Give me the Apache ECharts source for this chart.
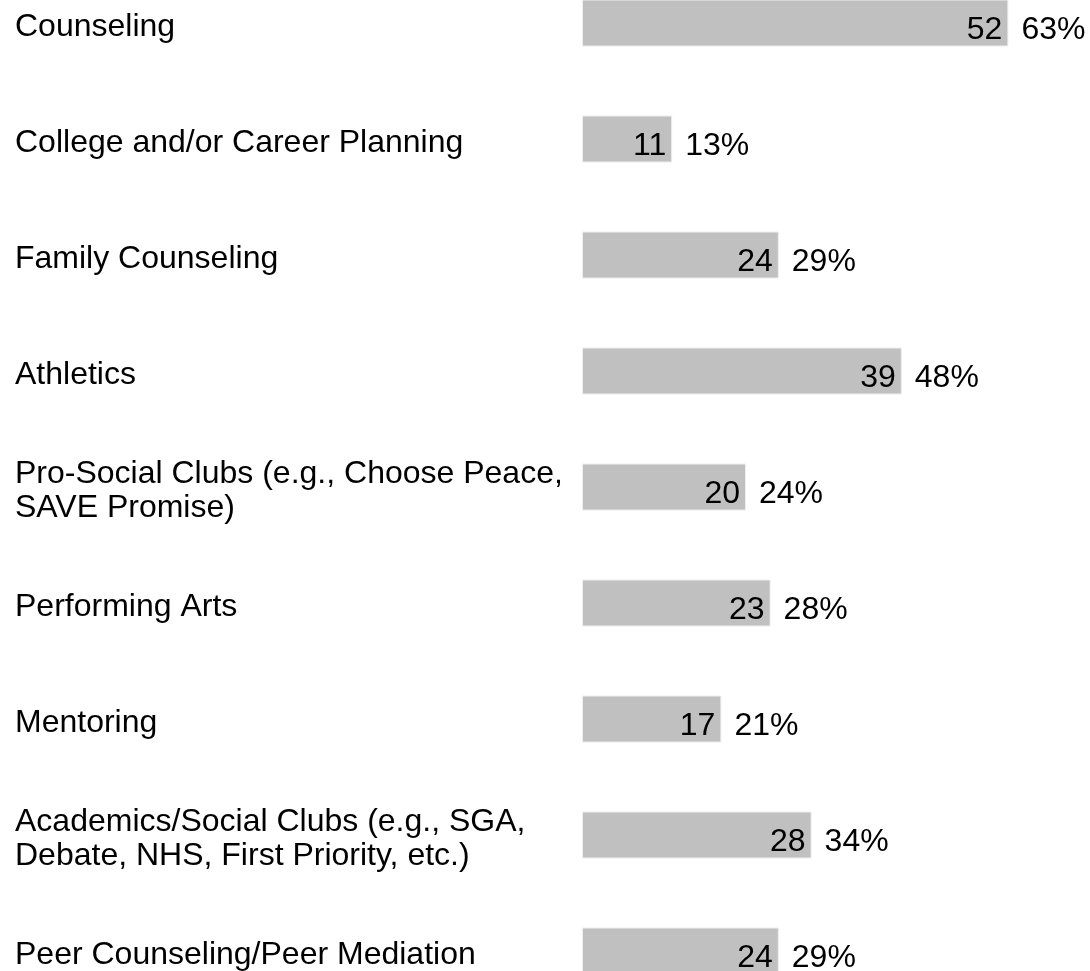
<!DOCTYPE html>
<html>
<head>
<meta charset="utf-8">
<script src="https://cdn.jsdelivr.net/npm/echarts@6/dist/echarts.min.js"></script>
<style>
html,body{margin:0;padding:0;background:#fff;}
#chart{width:1090px;height:971px;}
</style>
</head>
<body>
<div id="chart"></div>
<script>
var categories = [
  "Counseling",
  "College and/or Career Planning",
  "Family Counseling",
  "Athletics",
  "Pro-Social Clubs (e.g., Choose Peace,\nSAVE Promise)",
  "Performing Arts",
  "Mentoring",
  "Academics/Social Clubs (e.g., SGA,\nDebate, NHS, First Priority, etc.)",
  "Peer Counseling/Peer Mediation"
];
var counts = [52, 11, 24, 39, 20, 23, 17, 28, 24];
var percents = ["63%", "13%", "29%", "48%", "24%", "28%", "21%", "34%", "29%"];

var FONT = "'Liberation Sans', Arial, sans-serif";
var chart = echarts.init(document.getElementById('chart'), null, {renderer: 'canvas'});
chart.setOption({
  animation: false,
  backgroundColor: '#ffffff',
  grid: {left: 582, right: 16, top: -35, bottom: -38, containLabel: false, outerBoundsMode: 'none'},
  xAxis: {
    type: 'value', min: 0, max: 60,
    show: false
  },
  yAxis: {
    type: 'category',
    data: categories,
    inverse: true,
    axisLine: {show: false},
    axisTick: {show: false},
    splitLine: {show: false},
    axisLabel: {show: false}
  },
  series: [
    {
      type: 'bar',
      data: counts,
      barWidth: 47,
      itemStyle: {color: '#c0c0c0', borderColor: '#eeeeee', borderWidth: 1},
      label: {
        show: true,
        position: 'insideRight',
        distance: 6,
        offset: [0, 7],
        color: '#000000',
        fontFamily: FONT,
        fontSize: 32
      }
    },
    {
      type: 'bar',
      data: counts,
      barWidth: 47,
      barGap: '-100%',
      silent: true,
      itemStyle: {color: 'rgba(0,0,0,0)'},
      label: {
        show: true,
        position: 'right',
        distance: 13,
        offset: [0, 7],
        color: '#000000',
        fontFamily: FONT,
        fontSize: 32,
        formatter: function (p) { return percents[p.dataIndex]; }
      }
    },
    {
      type: 'bar',
      data: counts,
      barWidth: 47,
      barGap: '-100%',
      silent: true,
      itemStyle: {color: 'rgba(0,0,0,0)'},
      label: {
        show: true,
        position: [-567, '50%'],
        align: 'left',
        verticalAlign: 'middle',
        offset: [0, 4],
        color: '#000000',
        fontFamily: FONT,
        fontSize: 32,
        lineHeight: 34,
        formatter: function (p) { return categories[p.dataIndex]; }
      }
    }
  ]
});
</script>
</body>
</html>
